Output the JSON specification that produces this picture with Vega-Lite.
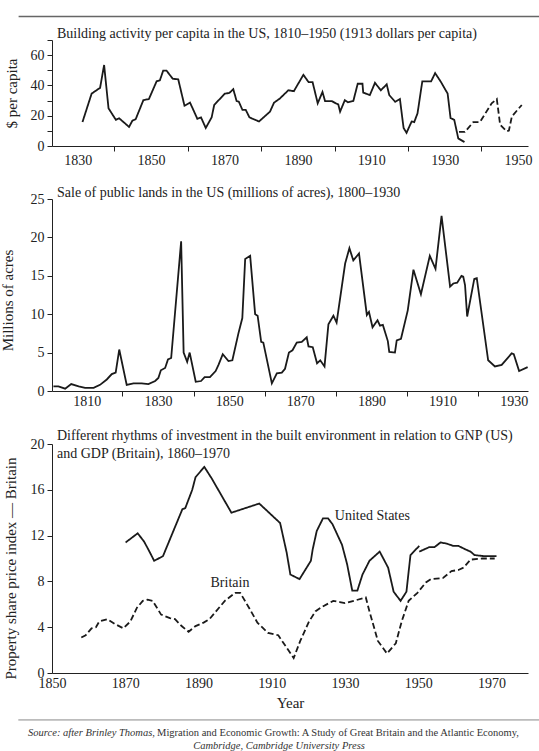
{
  "$schema": "https://vega.github.io/schema/vega-lite/v6.json",
  "autosize": {"type": "pad"},
  "padding": {"left": 0, "top": 15, "right": 0, "bottom": 0},
  "background": "white",
  "config": {
    "font": "Liberation Serif",
    "view": {"stroke": null},
    "axis": {"domainColor": "#222", "tickColor": "#222", "labelColor": "#222", "titleColor": "#222", "labelFont": "Liberation Serif", "titleFont": "Liberation Serif", "labelFontSize": 14, "titleFontSize": 15, "titleFontWeight": "normal", "grid": false, "tickSize": 5, "domainWidth": 1, "tickWidth": 1, "labelOverlap": false, "labelFlush": false},
    "title": {"font": "Liberation Serif", "fontSize": 14, "fontWeight": "normal", "anchor": "start", "frame": "group", "color": "#222"}
  },
  "bounds": "flush",
  "spacing": 53,
  "datasets": {
    "p1": [
      {"year": 1831.3, "value": 15.8, "seg": "solid"},
      {"year": 1833.8, "value": 34.6, "seg": "solid"},
      {"year": 1836.1, "value": 38.4, "seg": "solid"},
      {"year": 1837.2, "value": 53.5, "seg": "solid"},
      {"year": 1838.4, "value": 24.9, "seg": "solid"},
      {"year": 1840.4, "value": 17.3, "seg": "solid"},
      {"year": 1841.3, "value": 18.3, "seg": "solid"},
      {"year": 1844.0, "value": 12.6, "seg": "solid"},
      {"year": 1844.9, "value": 16.7, "seg": "solid"},
      {"year": 1845.8, "value": 17.7, "seg": "solid"},
      {"year": 1847.9, "value": 30.3, "seg": "solid"},
      {"year": 1849.4, "value": 31.0, "seg": "solid"},
      {"year": 1851.5, "value": 42.7, "seg": "solid"},
      {"year": 1852.4, "value": 43.4, "seg": "solid"},
      {"year": 1853.3, "value": 49.8, "seg": "solid"},
      {"year": 1854.2, "value": 49.8, "seg": "solid"},
      {"year": 1855.9, "value": 44.4, "seg": "solid"},
      {"year": 1857.4, "value": 44.0, "seg": "solid"},
      {"year": 1859.1, "value": 26.6, "seg": "solid"},
      {"year": 1860.6, "value": 28.7, "seg": "solid"},
      {"year": 1862.6, "value": 18.0, "seg": "solid"},
      {"year": 1863.6, "value": 18.9, "seg": "solid"},
      {"year": 1864.9, "value": 11.9, "seg": "solid"},
      {"year": 1866.5, "value": 18.9, "seg": "solid"},
      {"year": 1867.2, "value": 27.1, "seg": "solid"},
      {"year": 1870.1, "value": 34.6, "seg": "solid"},
      {"year": 1871.3, "value": 35.0, "seg": "solid"},
      {"year": 1872.4, "value": 37.5, "seg": "solid"},
      {"year": 1873.3, "value": 29.7, "seg": "solid"},
      {"year": 1873.9, "value": 29.3, "seg": "solid"},
      {"year": 1874.9, "value": 23.8, "seg": "solid"},
      {"year": 1875.8, "value": 23.8, "seg": "solid"},
      {"year": 1876.8, "value": 18.9, "seg": "solid"},
      {"year": 1879.4, "value": 16.2, "seg": "solid"},
      {"year": 1882.4, "value": 22.7, "seg": "solid"},
      {"year": 1883.5, "value": 28.6, "seg": "solid"},
      {"year": 1885.1, "value": 31.4, "seg": "solid"},
      {"year": 1887.4, "value": 36.8, "seg": "solid"},
      {"year": 1888.9, "value": 36.2, "seg": "solid"},
      {"year": 1891.5, "value": 47.0, "seg": "solid"},
      {"year": 1892.9, "value": 42.2, "seg": "solid"},
      {"year": 1894.0, "value": 42.2, "seg": "solid"},
      {"year": 1895.4, "value": 28.2, "seg": "solid"},
      {"year": 1896.7, "value": 35.7, "seg": "solid"},
      {"year": 1897.4, "value": 29.7, "seg": "solid"},
      {"year": 1899.2, "value": 29.7, "seg": "solid"},
      {"year": 1900.3, "value": 28.2, "seg": "solid"},
      {"year": 1901.0, "value": 27.5, "seg": "solid"},
      {"year": 1901.5, "value": 22.7, "seg": "solid"},
      {"year": 1902.8, "value": 30.3, "seg": "solid"},
      {"year": 1903.6, "value": 28.9, "seg": "solid"},
      {"year": 1905.1, "value": 29.7, "seg": "solid"},
      {"year": 1906.3, "value": 41.1, "seg": "solid"},
      {"year": 1907.6, "value": 41.1, "seg": "solid"},
      {"year": 1907.8, "value": 35.3, "seg": "solid"},
      {"year": 1909.6, "value": 33.6, "seg": "solid"},
      {"year": 1911.0, "value": 41.7, "seg": "solid"},
      {"year": 1912.6, "value": 36.8, "seg": "solid"},
      {"year": 1914.2, "value": 40.7, "seg": "solid"},
      {"year": 1914.9, "value": 33.6, "seg": "solid"},
      {"year": 1916.5, "value": 29.2, "seg": "solid"},
      {"year": 1917.8, "value": 31.0, "seg": "solid"},
      {"year": 1918.8, "value": 11.9, "seg": "solid"},
      {"year": 1919.6, "value": 8.7, "seg": "solid"},
      {"year": 1921.0, "value": 16.2, "seg": "solid"},
      {"year": 1921.7, "value": 15.8, "seg": "solid"},
      {"year": 1922.6, "value": 21.6, "seg": "solid"},
      {"year": 1923.9, "value": 42.7, "seg": "solid"},
      {"year": 1926.3, "value": 42.7, "seg": "solid"},
      {"year": 1927.4, "value": 48.1, "seg": "solid"},
      {"year": 1929.0, "value": 42.2, "seg": "solid"},
      {"year": 1930.8, "value": 34.6, "seg": "solid"},
      {"year": 1931.6, "value": 18.4, "seg": "solid"},
      {"year": 1932.6, "value": 17.3, "seg": "solid"},
      {"year": 1933.7, "value": 5.0, "seg": "solid"},
      {"year": 1935.4, "value": 2.6, "seg": "solid"},
      {"year": 1933.9, "value": 9.3, "seg": "dashed"},
      {"year": 1935.5, "value": 9.3, "seg": "dashed"},
      {"year": 1937.8, "value": 15.8, "seg": "dashed"},
      {"year": 1939.6, "value": 15.8, "seg": "dashed"},
      {"year": 1942.8, "value": 28.2, "seg": "dashed"},
      {"year": 1944.2, "value": 31.0, "seg": "dashed"},
      {"year": 1945.1, "value": 14.1, "seg": "dashed"},
      {"year": 1946.9, "value": 9.7, "seg": "dashed"},
      {"year": 1947.5, "value": 10.2, "seg": "dashed"},
      {"year": 1948.3, "value": 19.5, "seg": "dashed"},
      {"year": 1951.0, "value": 27.1, "seg": "dashed"}
    ],
    "p2": [
      {"year": 1800.6, "value": 0.6}, {"year": 1802.0, "value": 0.6}, {"year": 1803.9, "value": 0.3},
      {"year": 1805.6, "value": 0.9}, {"year": 1807.7, "value": 0.6}, {"year": 1809.5, "value": 0.4},
      {"year": 1811.9, "value": 0.4}, {"year": 1813.7, "value": 0.8}, {"year": 1815.6, "value": 1.5},
      {"year": 1817.0, "value": 2.2}, {"year": 1818.1, "value": 2.4}, {"year": 1819.1, "value": 5.4},
      {"year": 1821.2, "value": 0.8}, {"year": 1823.1, "value": 1.0}, {"year": 1825.4, "value": 1.0},
      {"year": 1827.3, "value": 0.9}, {"year": 1829.2, "value": 1.3}, {"year": 1830.1, "value": 1.7},
      {"year": 1830.8, "value": 2.7}, {"year": 1832.0, "value": 3.0}, {"year": 1832.8, "value": 4.1},
      {"year": 1833.7, "value": 4.3}, {"year": 1836.5, "value": 19.5}, {"year": 1837.2, "value": 5.0},
      {"year": 1838.2, "value": 3.8}, {"year": 1838.9, "value": 5.0}, {"year": 1840.6, "value": 1.2},
      {"year": 1842.1, "value": 1.3}, {"year": 1843.1, "value": 1.8}, {"year": 1844.6, "value": 1.8},
      {"year": 1846.2, "value": 2.6}, {"year": 1847.0, "value": 3.4}, {"year": 1848.2, "value": 4.8},
      {"year": 1849.8, "value": 3.9}, {"year": 1850.9, "value": 4.0}, {"year": 1852.6, "value": 7.5},
      {"year": 1853.7, "value": 9.5}, {"year": 1854.5, "value": 17.2}, {"year": 1855.9, "value": 17.6},
      {"year": 1857.3, "value": 10.0}, {"year": 1858.0, "value": 9.8}, {"year": 1859.0, "value": 6.4},
      {"year": 1859.6, "value": 6.3}, {"year": 1862.0, "value": 1.0}, {"year": 1863.4, "value": 2.3},
      {"year": 1864.8, "value": 2.4}, {"year": 1865.7, "value": 2.9}, {"year": 1866.8, "value": 5.0},
      {"year": 1867.8, "value": 5.3}, {"year": 1869.0, "value": 6.3}, {"year": 1870.4, "value": 6.4},
      {"year": 1871.8, "value": 7.0}, {"year": 1872.3, "value": 5.8}, {"year": 1873.5, "value": 5.7},
      {"year": 1874.7, "value": 3.6}, {"year": 1875.6, "value": 4.0}, {"year": 1876.8, "value": 3.2},
      {"year": 1877.9, "value": 8.7}, {"year": 1879.3, "value": 9.8}, {"year": 1880.2, "value": 8.9},
      {"year": 1882.6, "value": 16.6}, {"year": 1883.8, "value": 18.6}, {"year": 1884.9, "value": 17.0},
      {"year": 1886.5, "value": 17.9}, {"year": 1888.7, "value": 9.9}, {"year": 1889.3, "value": 10.3},
      {"year": 1890.3, "value": 8.3}, {"year": 1891.7, "value": 9.2}, {"year": 1892.4, "value": 8.5},
      {"year": 1893.2, "value": 8.6}, {"year": 1894.6, "value": 6.5}, {"year": 1895.0, "value": 5.1},
      {"year": 1896.6, "value": 5.0}, {"year": 1897.1, "value": 6.6}, {"year": 1898.3, "value": 6.8},
      {"year": 1900.2, "value": 10.5}, {"year": 1901.8, "value": 15.8}, {"year": 1903.9, "value": 12.6},
      {"year": 1906.4, "value": 17.6}, {"year": 1908.0, "value": 15.9}, {"year": 1909.7, "value": 22.8},
      {"year": 1912.1, "value": 13.6}, {"year": 1913.0, "value": 14.0}, {"year": 1914.1, "value": 14.1},
      {"year": 1915.3, "value": 15.0}, {"year": 1915.8, "value": 14.9}, {"year": 1916.3, "value": 13.8},
      {"year": 1916.9, "value": 9.7}, {"year": 1918.9, "value": 14.6}, {"year": 1919.6, "value": 14.7},
      {"year": 1922.8, "value": 4.0}, {"year": 1924.7, "value": 3.2}, {"year": 1926.6, "value": 3.4},
      {"year": 1929.4, "value": 4.9}, {"year": 1930.0, "value": 4.8}, {"year": 1931.5, "value": 2.6},
      {"year": 1933.9, "value": 3.1}
    ],
    "p3": [
      {"year": 1870.1, "value": 11.4, "country": "United States", "seg": "us1"},
      {"year": 1873.4, "value": 12.2, "country": "United States", "seg": "us1"},
      {"year": 1875.1, "value": 11.5, "country": "United States", "seg": "us1"},
      {"year": 1876.3, "value": 10.8, "country": "United States", "seg": "us1"},
      {"year": 1877.9, "value": 9.8, "country": "United States", "seg": "us1"},
      {"year": 1880.3, "value": 10.2, "country": "United States", "seg": "us1"},
      {"year": 1885.6, "value": 14.3, "country": "United States", "seg": "us1"},
      {"year": 1886.4, "value": 14.4, "country": "United States", "seg": "us1"},
      {"year": 1888.3, "value": 16.0, "country": "United States", "seg": "us1"},
      {"year": 1889.2, "value": 17.1, "country": "United States", "seg": "us1"},
      {"year": 1891.6, "value": 18.0, "country": "United States", "seg": "us1"},
      {"year": 1893.6, "value": 17.0, "country": "United States", "seg": "us1"},
      {"year": 1899.0, "value": 14.0, "country": "United States", "seg": "us1"},
      {"year": 1906.6, "value": 14.8, "country": "United States", "seg": "us1"},
      {"year": 1912.3, "value": 13.1, "country": "United States", "seg": "us1"},
      {"year": 1914.1, "value": 10.5, "country": "United States", "seg": "us1"},
      {"year": 1915.1, "value": 8.6, "country": "United States", "seg": "us1"},
      {"year": 1917.6, "value": 8.2, "country": "United States", "seg": "us1"},
      {"year": 1920.7, "value": 9.8, "country": "United States", "seg": "us1"},
      {"year": 1921.2, "value": 10.8, "country": "United States", "seg": "us1"},
      {"year": 1922.3, "value": 12.4, "country": "United States", "seg": "us1"},
      {"year": 1924.0, "value": 13.5, "country": "United States", "seg": "us1"},
      {"year": 1925.4, "value": 13.5, "country": "United States", "seg": "us1"},
      {"year": 1926.6, "value": 13.0, "country": "United States", "seg": "us1"},
      {"year": 1929.2, "value": 11.2, "country": "United States", "seg": "us1"},
      {"year": 1930.6, "value": 9.5, "country": "United States", "seg": "us1"},
      {"year": 1932.0, "value": 7.2, "country": "United States", "seg": "us1"},
      {"year": 1933.4, "value": 7.2, "country": "United States", "seg": "us1"},
      {"year": 1934.8, "value": 8.6, "country": "United States", "seg": "us1"},
      {"year": 1936.7, "value": 9.8, "country": "United States", "seg": "us1"},
      {"year": 1939.5, "value": 10.6, "country": "United States", "seg": "us1"},
      {"year": 1941.8, "value": 9.2, "country": "United States", "seg": "us1"},
      {"year": 1943.3, "value": 7.1, "country": "United States", "seg": "us1"},
      {"year": 1945.2, "value": 6.3, "country": "United States", "seg": "us1"},
      {"year": 1946.8, "value": 7.1, "country": "United States", "seg": "us1"},
      {"year": 1947.9, "value": 10.3, "country": "United States", "seg": "us1"},
      {"year": 1950.3, "value": 11.1, "country": "United States", "seg": "us1"},
      {"year": 1950.3, "value": 10.6, "country": "United States", "seg": "us2"},
      {"year": 1953.1, "value": 11.0, "country": "United States", "seg": "us2"},
      {"year": 1954.5, "value": 11.0, "country": "United States", "seg": "us2"},
      {"year": 1956.1, "value": 11.4, "country": "United States", "seg": "us2"},
      {"year": 1957.8, "value": 11.3, "country": "United States", "seg": "us2"},
      {"year": 1959.6, "value": 11.1, "country": "United States", "seg": "us2"},
      {"year": 1961.0, "value": 11.1, "country": "United States", "seg": "us2"},
      {"year": 1962.9, "value": 10.8, "country": "United States", "seg": "us2"},
      {"year": 1964.3, "value": 10.6, "country": "United States", "seg": "us2"},
      {"year": 1965.4, "value": 10.3, "country": "United States", "seg": "us2"},
      {"year": 1968.1, "value": 10.2, "country": "United States", "seg": "us2"},
      {"year": 1971.4, "value": 10.2, "country": "United States", "seg": "us2"},
      {"year": 1858.0, "value": 3.1, "country": "Britain", "seg": "gb"},
      {"year": 1859.2, "value": 3.3, "country": "Britain", "seg": "gb"},
      {"year": 1860.8, "value": 3.9, "country": "Britain", "seg": "gb"},
      {"year": 1862.0, "value": 4.0, "country": "Britain", "seg": "gb"},
      {"year": 1862.9, "value": 4.5, "country": "Britain", "seg": "gb"},
      {"year": 1865.1, "value": 4.7, "country": "Britain", "seg": "gb"},
      {"year": 1867.1, "value": 4.3, "country": "Britain", "seg": "gb"},
      {"year": 1869.5, "value": 3.9, "country": "Britain", "seg": "gb"},
      {"year": 1871.4, "value": 4.5, "country": "Britain", "seg": "gb"},
      {"year": 1873.2, "value": 5.7, "country": "Britain", "seg": "gb"},
      {"year": 1874.8, "value": 6.3, "country": "Britain", "seg": "gb"},
      {"year": 1876.1, "value": 6.4, "country": "Britain", "seg": "gb"},
      {"year": 1877.5, "value": 6.3, "country": "Britain", "seg": "gb"},
      {"year": 1879.8, "value": 5.1, "country": "Britain", "seg": "gb"},
      {"year": 1882.2, "value": 4.8, "country": "Britain", "seg": "gb"},
      {"year": 1883.6, "value": 4.7, "country": "Britain", "seg": "gb"},
      {"year": 1885.4, "value": 4.1, "country": "Britain", "seg": "gb"},
      {"year": 1887.3, "value": 3.6, "country": "Britain", "seg": "gb"},
      {"year": 1889.2, "value": 4.1, "country": "Britain", "seg": "gb"},
      {"year": 1891.4, "value": 4.4, "country": "Britain", "seg": "gb"},
      {"year": 1893.0, "value": 4.7, "country": "Britain", "seg": "gb"},
      {"year": 1897.2, "value": 6.3, "country": "Britain", "seg": "gb"},
      {"year": 1900.0, "value": 7.0, "country": "Britain", "seg": "gb"},
      {"year": 1901.4, "value": 7.0, "country": "Britain", "seg": "gb"},
      {"year": 1903.8, "value": 5.7, "country": "Britain", "seg": "gb"},
      {"year": 1906.1, "value": 4.4, "country": "Britain", "seg": "gb"},
      {"year": 1909.0, "value": 3.5, "country": "Britain", "seg": "gb"},
      {"year": 1911.8, "value": 3.3, "country": "Britain", "seg": "gb"},
      {"year": 1914.1, "value": 2.2, "country": "Britain", "seg": "gb"},
      {"year": 1916.0, "value": 1.3, "country": "Britain", "seg": "gb"},
      {"year": 1917.8, "value": 2.8, "country": "Britain", "seg": "gb"},
      {"year": 1920.2, "value": 4.5, "country": "Britain", "seg": "gb"},
      {"year": 1922.0, "value": 5.4, "country": "Britain", "seg": "gb"},
      {"year": 1923.9, "value": 5.8, "country": "Britain", "seg": "gb"},
      {"year": 1926.8, "value": 6.3, "country": "Britain", "seg": "gb"},
      {"year": 1928.6, "value": 6.2, "country": "Britain", "seg": "gb"},
      {"year": 1930.0, "value": 6.1, "country": "Britain", "seg": "gb"},
      {"year": 1932.4, "value": 6.3, "country": "Britain", "seg": "gb"},
      {"year": 1935.7, "value": 6.6, "country": "Britain", "seg": "gb"},
      {"year": 1936.6, "value": 5.5, "country": "Britain", "seg": "gb"},
      {"year": 1939.0, "value": 2.8, "country": "Britain", "seg": "gb"},
      {"year": 1941.5, "value": 1.7, "country": "Britain", "seg": "gb"},
      {"year": 1943.9, "value": 2.6, "country": "Britain", "seg": "gb"},
      {"year": 1945.5, "value": 4.5, "country": "Britain", "seg": "gb"},
      {"year": 1947.4, "value": 6.3, "country": "Britain", "seg": "gb"},
      {"year": 1949.8, "value": 7.0, "country": "Britain", "seg": "gb"},
      {"year": 1952.1, "value": 7.9, "country": "Britain", "seg": "gb"},
      {"year": 1953.5, "value": 8.2, "country": "Britain", "seg": "gb"},
      {"year": 1956.8, "value": 8.3, "country": "Britain", "seg": "gb"},
      {"year": 1959.1, "value": 8.9, "country": "Britain", "seg": "gb"},
      {"year": 1961.0, "value": 9.0, "country": "Britain", "seg": "gb"},
      {"year": 1962.4, "value": 9.2, "country": "Britain", "seg": "gb"},
      {"year": 1964.3, "value": 9.9, "country": "Britain", "seg": "gb"},
      {"year": 1967.6, "value": 10.0, "country": "Britain", "seg": "gb"},
      {"year": 1970.9, "value": 10.0, "country": "Britain", "seg": "gb"}
    ]
  },
  "vconcat": [
    {
      "width": 476,
      "height": 106,
      "title": {"text": "Building activity per capita in the US, 1810–1950 (1913 dollars per capita)", "dx": 5, "offset": -1, "dy": 24.5},
      "layer": [
        {
          "data": {"name": "p1"},
          "mark": {"type": "line", "strokeWidth": 1.8, "color": "#1a1a1a"},
          "encoding": {
            "x": {"field": "year", "type": "quantitative",
                  "scale": {"domain": [1823, 1952.7], "nice": false, "zero": false},
                  "axis": {"values": [1830, 1840, 1850, 1860, 1870, 1880, 1890, 1900, 1910, 1920, 1930, 1940, 1950],
                           "format": "d", "labelPadding": 2, "title": null,
                           "labelExpr": "(datum.value - 1830) % 20 == 0 ? datum.label : ''",
                           "tickOpacity": {"condition": {"test": "(datum.value - 1830) % 20 == 0", "value": 0}, "value": 1}}},
            "y": {"field": "value", "type": "quantitative",
                  "scale": {"domain": [0, 70], "nice": false},
                  "axis": {"values": [0, 10, 20, 30, 40, 50, 60, 70], "title": "$ per capita", "titlePadding": 11, "labelPadding": 3,
                           "labelExpr": "datum.value % 20 == 0 ? datum.label : ''"}},
            "detail": {"field": "seg", "type": "nominal"},
            "strokeDash": {"field": "seg", "type": "nominal", "scale": {"domain": ["solid", "dashed"], "range": [[1, 0], [6, 3]]}, "legend": null}
          }
        },
        {
          "data": {"values": [{"from": 1813.9, "to": 1956.2, "level": 85.6}]},
          "mark": {"type": "rule", "stroke": "#666666", "strokeWidth": 1.5, "opacity": 1},
          "encoding": {
            "x": {"field": "from", "type": "quantitative",
                  "axis": {"values": [1830, 1840, 1850, 1860, 1870, 1880, 1890, 1900, 1910, 1920, 1930, 1940, 1950],
                           "format": "d", "labelPadding": 2, "title": null,
                           "labelExpr": "(datum.value - 1830) % 20 == 0 ? datum.label : ''",
                           "tickOpacity": {"condition": {"test": "(datum.value - 1830) % 20 == 0", "value": 0}, "value": 1}}},
            "x2": {"field": "to"},
            "y": {"field": "level", "type": "quantitative",
                  "axis": {"values": [0, 10, 20, 30, 40, 50, 60, 70], "title": "$ per capita", "titlePadding": 11, "labelPadding": 3,
                           "labelExpr": "datum.value % 20 == 0 ? datum.label : ''"}}
          }
        }
      ]
    },
    {
      "width": 476,
      "height": 192,
      "title": {"text": "Sale of public lands in the US (millions of acres), 1800–1930", "dx": 5, "offset": 0, "dy": 8},
      "data": {"name": "p2"},
      "mark": {"type": "line", "strokeWidth": 1.8, "color": "#1a1a1a"},
      "encoding": {
        "x": {"field": "year", "type": "quantitative",
              "scale": {"domain": [1800.2, 1934], "nice": false, "zero": false},
              "axis": {"values": [1810, 1820, 1830, 1840, 1850, 1860, 1870, 1880, 1890, 1900, 1910, 1920, 1930],
                       "format": "d", "labelPadding": -2, "title": null,
                       "labelExpr": "(datum.value - 1810) % 20 == 0 ? datum.label : ''",
                       "tickOpacity": {"condition": {"test": "(datum.value - 1810) % 20 == 0", "value": 0}, "value": 1}}},
        "y": {"field": "value", "type": "quantitative",
              "scale": {"domain": [0, 25], "nice": false},
              "axis": {"values": [0, 5, 10, 15, 20, 25], "title": "Millions of acres", "titlePadding": 15, "labelPadding": 3, "titleY": 101}}
      }
    },
    {
      "width": 476,
      "height": 229,
      "title": {"text": ["Different rhythms of investment in the built environment in relation to GNP (US)", "and GDP (Britain), 1860–1970"], "dx": 5, "offset": -16, "dy": 8, "lineHeight": 18},
      "layer": [
        {
          "data": {"name": "p3"},
          "mark": {"type": "line", "strokeWidth": 1.8, "color": "#1a1a1a"},
          "encoding": {
            "x": {"field": "year", "type": "quantitative",
                  "scale": {"domain": [1850, 1980], "nice": false, "zero": false},
                  "axis": {"values": [1850, 1860, 1870, 1880, 1890, 1900, 1910, 1920, 1930, 1940, 1950, 1960, 1970],
                           "format": "d", "labelPadding": -2, "title": "Year", "titlePadding": 5,
                           "labelExpr": "(datum.value - 1850) % 20 == 0 ? datum.label : ''",
                           "tickOpacity": {"condition": {"test": "(datum.value - 1850) % 20 == 0", "value": 0}, "value": 1}}},
            "y": {"field": "value", "type": "quantitative",
                  "scale": {"domain": [0, 20], "nice": false},
                  "axis": {"values": [0, 2, 4, 6, 8, 10, 12, 14, 16, 18, 20], "title": "Property share price index — Britain", "titlePadding": 12, "labelPadding": 3, "titleY": 124,
                           "labelExpr": "datum.value % 4 == 0 ? datum.label : ''"}},
            "detail": {"field": "seg", "type": "nominal"},
            "strokeDash": {"field": "country", "type": "nominal", "scale": {"domain": ["United States", "Britain"], "range": [[1, 0], [7, 3]]}, "legend": null}
          }
        },
        {
          "data": {"values": [{}]},
          "mark": {"type": "text", "fontSize": 14, "color": "#222", "align": "center", "baseline": "middle"},
          "encoding": {"x": {"datum": 1937.5, "type": "quantitative"}, "y": {"datum": 13.7, "type": "quantitative"}, "text": {"value": "United States"}}
        },
        {
          "data": {"values": [{}]},
          "mark": {"type": "text", "fontSize": 14, "color": "#222", "align": "center", "baseline": "middle"},
          "encoding": {"x": {"datum": 1898.6, "type": "quantitative"}, "y": {"datum": 7.86, "type": "quantitative"}, "text": {"value": "Britain"}}
        },
        {
          "data": {"values": [{}]},
          "mark": {"type": "rule", "color": "#888", "strokeWidth": 1},
          "encoding": {"x": {"datum": 1840.8, "type": "quantitative"}, "x2": {"datum": 1983.6}, "y": {"datum": -4.1, "type": "quantitative"}}
        },
        {
          "data": {"values": [{}]},
          "mark": {"type": "text", "fontSize": 10.5, "fontStyle": "italic", "color": "#333", "align": "right", "baseline": "middle"},
          "encoding": {"x": {"datum": 1878.1, "type": "quantitative"}, "y": {"datum": -5.21, "type": "quantitative"}, "text": {"value": "Source: after Brinley Thomas,"}}
        },
        {
          "data": {"values": [{}]},
          "mark": {"type": "text", "fontSize": 10.5, "color": "#333", "align": "left", "baseline": "middle"},
          "encoding": {"x": {"datum": 1878.7, "type": "quantitative"}, "y": {"datum": -5.21, "type": "quantitative"}, "text": {"value": "Migration and Economic Growth: A Study of Great Britain and the Atlantic Economy,"}}
        },
        {
          "data": {"values": [{}]},
          "mark": {"type": "text", "fontSize": 10.5, "fontStyle": "italic", "color": "#333", "align": "center", "baseline": "middle"},
          "encoding": {"x": {"datum": 1912, "type": "quantitative"}, "y": {"datum": -6.38, "type": "quantitative"}, "text": {"value": "Cambridge, Cambridge University Press"}}
        }
      ]
    }
  ]
}
